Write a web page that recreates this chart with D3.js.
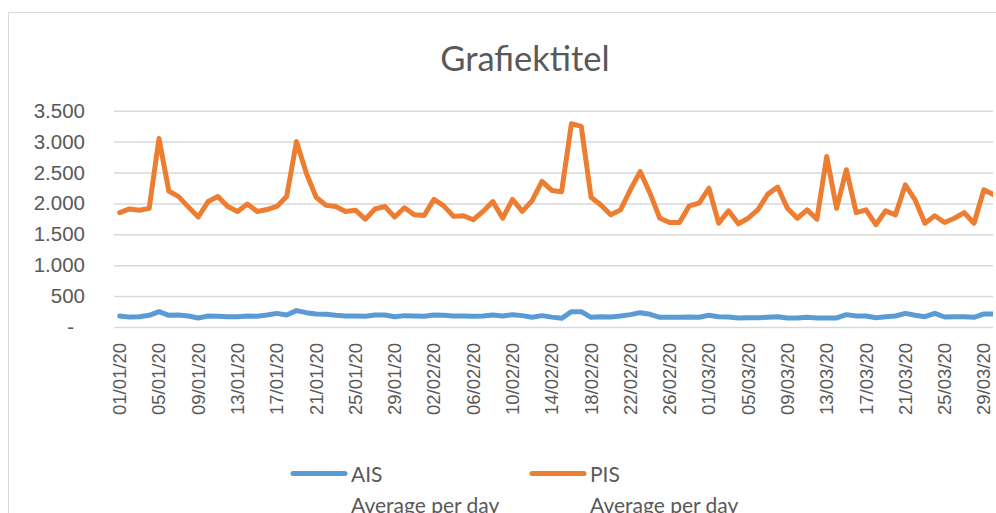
<!DOCTYPE html>
<html lang="nl">
<head>
  <meta charset="UTF-8">
  <title>Grafiektitel</title>
  <style>
    body { margin: 0; background: #fff; }
    svg { display: block; font-family: Lato, "Noto Sans", sans-serif; }
    .grid line { stroke: #d9d9d9; stroke-width: 1.5; }
    .axis text { fill: #595959; }
  </style>
</head>
<body>
  <svg id="chart" width="996" height="513"></svg>

  <script src="https://d3js.org/d3.v7.min.js"></script>
  <script>
    // categories: one point per day, 01/01/20 .. 30/03/20
    const days = d3.timeDay.range(new Date(2020, 0, 1), new Date(2020, 2, 31));

    const aisValues = [
      178, 160, 167, 189, 248, 189, 194, 178, 146, 178,
      173, 167, 167, 178, 173, 194, 221, 194, 265, 232,
      211, 205, 189, 178, 178, 173, 194, 194, 167, 184,
      178, 173, 194, 189, 178, 178, 173, 178, 194, 178,
      200, 184, 157, 184, 160, 140, 248, 248, 157, 167,
      162, 178, 200, 232, 205, 157, 157, 157, 162, 157,
      189, 167, 162, 146, 151, 150, 157, 167, 146, 146,
      157, 146, 146, 146, 200, 178, 178, 151, 167, 178,
      221, 189, 167, 221, 162, 167, 167, 157, 211, 211
    ];

    const pisValues = [
      1850, 1910, 1890, 1920, 3050, 2200, 2110, 1940, 1780, 2030,
      2110, 1950, 1870, 1990, 1870, 1900, 1950, 2110, 3000, 2490,
      2100, 1970, 1950, 1870, 1890, 1745, 1910, 1950, 1780, 1930,
      1815, 1805, 2065, 1960, 1790, 1800, 1735, 1870, 2030, 1760,
      2065, 1870, 2045, 2355, 2210, 2190, 3290, 3245, 2100, 1975,
      1815, 1895, 2220, 2515, 2165, 1760, 1690, 1690, 1960, 2005,
      2245, 1680, 1880, 1670, 1760, 1900, 2150, 2265, 1920, 1760,
      1895, 1745, 2760, 1920, 2545, 1850, 1895, 1655, 1880, 1815,
      2300, 2055, 1680, 1800, 1690, 1760, 1850, 1680, 2220, 2140
    ];

    const yTicks = [0, 500, 1000, 1500, 2000, 2500, 3000, 3500];
    const seriesNames = ["AIS", "PIS"];
    const seriesSub = "Average per day";
    const colors = ["#5b9bd5", "#ed7d31"];

    const svg = d3.select("#chart");
    const plotLeft = 114, plotRight = 993, plotTop = 110.7, plotBottom = 327;

    const x = d3.scaleBand()
      .domain(days)
      .range([114.8, 114.8 + days.length * 9.82]);
    const y = d3.scaleLinear().domain([0, 3500]).range([plotBottom, plotTop]);

    const nl = d3.formatLocale({ decimal: ",", thousands: ".", grouping: [3], currency: ["", ""] });
    const fmt = nl.format(",d");

    // chart border (only the left and top edges are inside the picture)
    svg.append("rect")
      .attr("x", 8.5).attr("y", 12.5)
      .attr("width", 1100).attr("height", 600)
      .attr("fill", "none").attr("stroke", "#d9d9d9");

    svg.append("text")
      .attr("x", 525).attr("y", 71)
      .attr("text-anchor", "middle")
      .attr("fill", "#595959")
      .style("font-size", "34.5px")
      .text("Grafiektitel");

    // y axis + gridlines
    const yAxis = svg.append("g")
      .attr("class", "axis grid")
      .attr("transform", `translate(${plotLeft},0)`)
      .call(d3.axisLeft(y)
        .tickValues(yTicks)
        .tickSize(-(plotRight - plotLeft))
        .tickPadding(29)
        .tickFormat(d => d === 0 ? "-" : fmt(d)));
    yAxis.select(".domain").remove();
    yAxis.selectAll("text").style("font-size", "20.5px");
    yAxis.selectAll(".tick").filter(d => d === 0).select("text").attr("x", -40);

    // x axis labels
    const xAxis = svg.append("g")
      .attr("class", "axis")
      .attr("transform", `translate(0,${plotBottom})`)
      .call(d3.axisBottom(x)
        .tickValues(days.filter((d, i) => i % 4 === 0))
        .tickSize(0)
        .tickFormat(d3.timeFormat("%d/%m/%y")));
    xAxis.select(".domain").remove();
    xAxis.selectAll("text")
      .style("font-size", "18.5px")
      .attr("transform", "rotate(-90)")
      .attr("text-anchor", "end")
      .attr("x", -16)
      .attr("y", 0)
      .attr("dy", "0.35em");

    svg.append("clipPath").attr("id", "plot-clip")
      .append("rect")
      .attr("x", 0).attr("y", 0)
      .attr("width", plotRight).attr("height", 513);

    const line = d3.line()
      .x((d, i) => x(days[i]) + x.bandwidth() / 2)
      .y(d => y(d));

    [aisValues, pisValues].forEach((vals, k) => {
      svg.append("path")
        .datum(vals)
        .attr("clip-path", "url(#plot-clip)")
        .attr("fill", "none")
        .attr("stroke", colors[k])
        .attr("stroke-width", 5)
        .attr("stroke-linejoin", "round")
        .attr("stroke-linecap", "round")
        .attr("d", line);
    });

    // legend (second line is cut by the bottom edge, as in the reference)
    const legendX = [293, 532];
    seriesNames.forEach((name, k) => {
      const g = svg.append("g").attr("transform", `translate(${legendX[k]},473.5)`);
      g.append("line")
        .attr("x1", 0).attr("x2", 52)
        .attr("stroke", colors[k])
        .attr("stroke-width", 5)
        .attr("stroke-linecap", "round");
      const t = g.append("text")
        .attr("fill", "#595959")
        .style("font-size", "21px");
      t.append("tspan").attr("x", 58).attr("y", 8).text(name);
      t.append("tspan").attr("x", 58).attr("y", 39).text(seriesSub);
    });
  </script>
</body>
</html>
